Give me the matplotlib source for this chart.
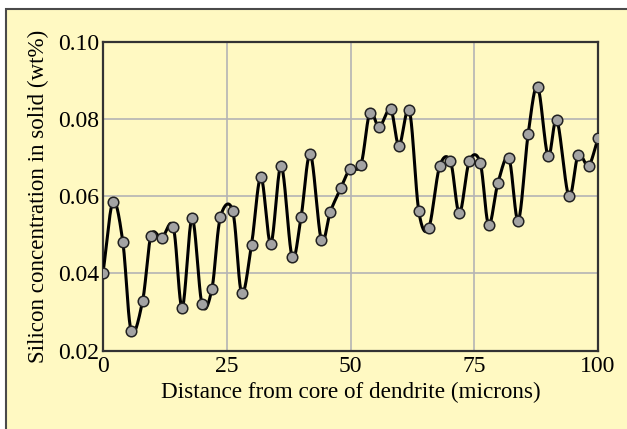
import numpy as np
import matplotlib.pyplot as plt
from matplotlib.patches import Rectangle

# Datos
distancia = [0, 2, 4, 5.7, 8, 9.7, 11.9, 14.2, 16, 18, 20, 22, 23.7, 26.2, 28, 30,
             31.9, 33.9, 36, 38.2, 40, 41.9, 44.1, 45.9, 48, 49.9, 52.1, 53.9, 55.8,
             58.1, 59.8, 61.9, 63.8, 65.8, 68, 70.2, 72, 74, 76.2, 77.9, 79.8, 82,
             83.9, 85.9, 87.8, 89.9, 91.7, 94.1, 96, 98.1, 100]
silicio = [0.0401, 0.0585, 0.0482, 0.0251, 0.0329, 0.0498, 0.0492, 0.0521, 0.0311,
           0.0543, 0.0320, 0.0360, 0.0545, 0.0562, 0.0349, 0.0474, 0.0650, 0.0477,
           0.0679, 0.0443, 0.0545, 0.0709, 0.0487, 0.0559, 0.0620, 0.0670, 0.0681,
           0.0816, 0.0779, 0.0825, 0.0731, 0.0822, 0.0561, 0.0517, 0.0677, 0.0690,
           0.0556, 0.0691, 0.0687, 0.0526, 0.0635, 0.0699, 0.0537, 0.0762, 0.0884,
           0.0704, 0.0797, 0.0600, 0.0707, 0.0679, 0.0750]
x_ticks = [0, 25, 50, 75, 100]
y_ticks = [0.02, 0.04, 0.06, 0.08, 0.10]


def catmull_rom(x, y, n=20):
    # curva suave que pasa por todos los puntos
    x = np.asarray(x, float)
    y = np.asarray(y, float)
    px = np.concatenate([[2 * x[0] - x[1]], x, [2 * x[-1] - x[-2]]])
    py = np.concatenate([[2 * y[0] - y[1]], y, [2 * y[-1] - y[-2]]])
    xs, ys = [], []
    t = np.linspace(0, 1, n, endpoint=False)
    for i in range(1, len(px) - 2):
        for p, out in ((px, xs), (py, ys)):
            p0, p1, p2, p3 = p[i - 1], p[i], p[i + 1], p[i + 2]
            out.append(0.5 * (2 * p1 + (-p0 + p2) * t
                              + (2 * p0 - 5 * p1 + 4 * p2 - p3) * t ** 2
                              + (-p0 + 3 * p1 - 3 * p2 + p3) * t ** 3))
    xs.append([x[-1]])
    ys.append([y[-1]])
    return np.concatenate(xs), np.concatenate(ys)


amarillo = '#fff9c2'
plt.rcParams['font.family'] = ['Liberation Serif', 'DejaVu Serif']

fig = plt.figure(figsize=(6.27, 4.29), dpi=100)
fig.patch.set_facecolor('white')
fig.patches.append(Rectangle((5.5 / 627, -0.05), 1.2, 1.05 - 8.5 / 429,
                             transform=fig.transFigure, facecolor=amarillo,
                             edgecolor='#4a4a4a', linewidth=1.5, zorder=-5))

ax = fig.add_axes([103 / 627, 1 - 350.7 / 429, (598 - 103) / 627, (350.7 - 41.7) / 429])
ax.set_facecolor(amarillo)

xs, ys = catmull_rom(distancia, silicio)
ax.plot(xs, ys, color='black', linewidth=2.2, zorder=3)
ax.plot(distancia, silicio, linestyle='none', marker='o', markersize=7.6,
        markerfacecolor='#a3a3a3', markeredgecolor='#222222', markeredgewidth=1.1, zorder=4)

ax.set_xlim(0, 100)
ax.set_ylim(0.02, 0.10)
ax.set_xticks(x_ticks)
ax.set_yticks(y_ticks)
ax.set_yticklabels(['%.2f' % v for v in y_ticks])
ax.grid(True, color='#b4b4b4', linewidth=1.2)
ax.set_axisbelow(True)
ax.tick_params(length=0, labelsize=17, pad=3)
ax.tick_params(axis='x', pad=4)
for s in ax.spines.values():
    s.set_color('#333333')
    s.set_linewidth(1.6)

ax.set_xlabel('Distance from core of dendrite (microns)', fontsize=16.7, labelpad=3)
ax.set_ylabel('Silicon concentration in solid (wt%)', fontsize=16.6, labelpad=6)

plt.savefig('out.png', dpi=100)
